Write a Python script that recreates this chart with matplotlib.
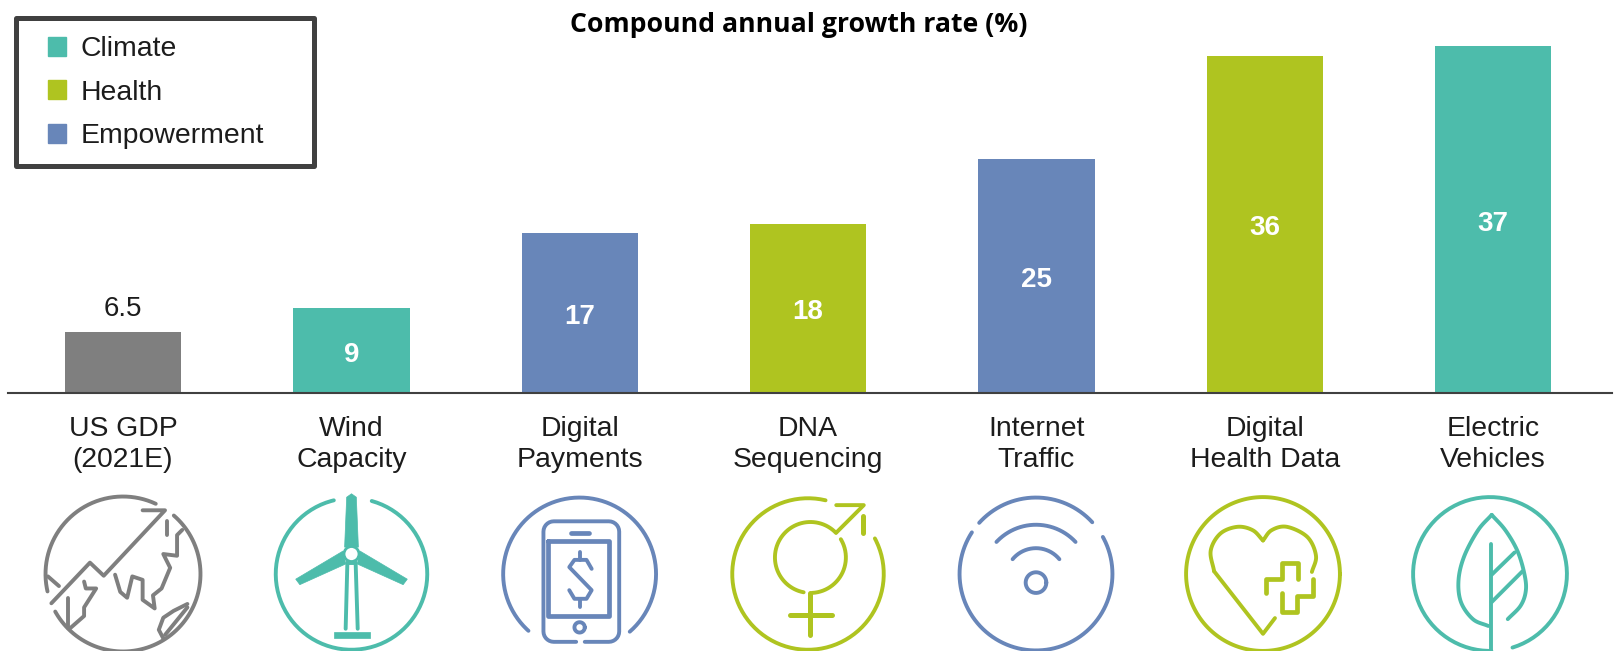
import numpy as np
import matplotlib
matplotlib.use("Agg")
import matplotlib.pyplot as plt
from matplotlib.patches import Patch, Rectangle, Circle

categories = ["US GDP\n(2021E)", "Wind\nCapacity", "Digital\nPayments", "DNA\nSequencing",
              "Internet\nTraffic", "Digital\nHealth Data", "Electric\nVehicles"]
values = [6.5, 9, 17, 18, 25, 36, 37]
value_labels = ["6.5", "9", "17", "18", "25", "36", "37"]
themes = ["GDP", "Climate", "Empowerment", "Health", "Empowerment", "Health", "Climate"]
legend_labels = ["Climate", "Health", "Empowerment"]
title = "Compound annual growth rate (%)"

COL = {"GDP": "#7F7F7F", "Climate": "#4DBCAB", "Health": "#AFC420", "Empowerment": "#6886B9"}
W, H = 1616, 651
SANS = ["Liberation Sans", "DejaVu Sans"]
TXT = "#1c1c1c"

fig = plt.figure(figsize=(W / 100, H / 100), dpi=100, facecolor="white")

# main axes
LEFT, RIGHT, BASE = 8, 1612, 392.5
ax = fig.add_axes([LEFT / W, 1 - BASE / H, (RIGHT - LEFT) / W, BASE / H])
x = np.arange(len(values))
ax.bar(x, values, width=0.51, color=[COL[t] for t in themes], edgecolor="none", zorder=2)
ax.set_xlim(-0.5035, 6.52)
ax.set_ylim(0, BASE / 9.36)
ax.set_yticks([])
ax.set_xticks(x)
ax.set_xticklabels(categories, fontsize=20.4, family=SANS, color=TXT, linespacing=1.25)
ax.tick_params(axis="x", length=0, pad=17)
for s in ("top", "left", "right"):
    ax.spines[s].set_visible(False)
ax.spines["bottom"].set_color("#404040")
ax.spines["bottom"].set_linewidth(1.5)
ax.patch.set_alpha(0)

for xi, v, lab in zip(x, values, value_labels):
    if v < 8:
        ax.annotate(lab, (xi, v), xytext=(0, 7), textcoords="offset points", ha="center", va="bottom",
                    fontsize=20, family=SANS, color=TXT)
    else:
        ax.annotate(lab, (xi, v / 2), xytext=(0, -3), textcoords="offset points", ha="center", va="center",
                    fontsize=20, family=SANS, fontweight="bold", color="white", zorder=3)

fig.text(799 / W, 1 - 25 / H, title, ha="center", va="center", fontsize=19.2,
         fontweight="bold", family=["Open Sans", "DejaVu Sans"], color="black")

# overlay in pixel coordinates for legend frame and icons
ov = fig.add_axes([0, 0, 1, 1])
ov.set_xlim(0, W)
ov.set_ylim(H, 0)
ov.axis("off")
ov.patch.set_alpha(0)

ov.add_patch(Rectangle((16, 17.5), 298, 148, fill=False, ec="#404040", lw=3.6, joinstyle="round"))
handles = [Patch(color=COL[k]) for k in legend_labels]
ov.legend(handles, legend_labels, loc="upper left", bbox_to_anchor=(48 / W, 1 - 36 / H),
          bbox_transform=fig.transFigure, frameon=False, borderpad=0, borderaxespad=0,
          handlelength=0.65, handleheight=0.65, handletextpad=0.5, labelspacing=0.62,
          labelcolor=TXT, prop={"family": SANS, "size": 20.4})


class Icon:
    """Icon drawn from crop coordinates relative to its own centre."""
    def __init__(self, cx, cy, ox, oy, color, scale=2.904, lw=2.8):
        self.cx, self.cy, self.ox, self.oy, self.c, self.s, self.lw = cx, cy, ox, oy, color, scale, lw

    def xy(self, pts):
        p = np.asarray(pts, float)
        return self.cx + (p[:, 0] - self.ox) / self.s, self.cy + (p[:, 1] - self.oy) / self.s

    def line(self, pts, smooth=False, lw=None):
        if smooth:
            pts = catmull(pts)
        px, py = self.xy(pts)
        ov.plot(px, py, color=self.c, lw=lw or self.lw, solid_capstyle="round", solid_joinstyle="round")

    def arc(self, cx, cy, r, a0, a1, lw=None):
        t = np.radians(np.linspace(a0, a1, 160))
        self.line(np.c_[cx + r * np.cos(t), cy - r * np.sin(t)], lw=lw)

    def circle(self, cx, cy, r, lw=None):
        self.arc(cx, cy, r, 0, 360, lw=lw)

    def fill(self, pts):
        px, py = self.xy(pts)
        ov.fill(px, py, color=self.c, lw=0.5)


def catmull(pts, n=12):
    p = np.asarray(pts, float)
    p = np.vstack([2 * p[0] - p[1], p, 2 * p[-1] - p[-2]])
    out = []
    for i in range(1, len(p) - 2):
        for t in np.linspace(0, 1, n, endpoint=False):
            out.append(0.5 * (2 * p[i] + (p[i + 1] - p[i - 1]) * t
                              + (2 * p[i - 1] - 5 * p[i] + 4 * p[i + 1] - p[i + 2]) * t ** 2
                              + (3 * p[i] - p[i - 1] - 3 * p[i + 1] + p[i + 2]) * t ** 3))
    out.append(p[-2])
    return np.array(out)


CY = 574
# Globe
g = Icon(123, CY, 358, 303, COL["GDP"])
g.arc(358, 303, 225, 65, 193)
g.arc(358, 303, 225, 49, -151)
g.line([(150, 388), (262, 270), (302, 308), (480, 118), (415, 118)])
g.line([(485, 150), (485, 190)])
g.line([(140, 310), (172, 338)])
g.line([(245, 325), (250, 345), (280, 345), (245, 400), (245, 425), (205, 460)])
g.line([(198, 372), (198, 460)])
g.line([(335, 305), (350, 355), (370, 372), (385, 310), (415, 320), (415, 378), (450, 403), (445, 365),
        (470, 345), (495, 285), (475, 245), (515, 250), (515, 190), (530, 175)])
g.line([(545, 390), (505, 410), (475, 430), (462, 465), (475, 490)])
g.line([(480, 480), (545, 400)])

# Wind turbine
w = Icon(351.5, CY, 1022, 303, COL["Climate"])
w.arc(1022, 303, 220, 74.5, -256.5)
w.fill([(1008, 80), (1022, 70), (1036, 80), (1042, 225), (1002, 225)])
w.fill([(860, 318), (872, 334), (1005, 274), (998, 236)])
w.fill([(1184, 318), (1172, 334), (1039, 274), (1046, 236)])
w.line([(1010, 270), (1005, 462)])
w.line([(1034, 270), (1040, 462)])
w.line([(1012, 270), (1032, 270)])
w.fill([(970, 470), (1077, 470), (1077, 488), (970, 488)])
hx, hy = w.xy([(1022, 245)])
ov.add_patch(Circle((hx[0], hy[0]), 7.5, fc="white", ec=COL["Climate"], lw=2, zorder=5))

# Phone
p = Icon(579.6, CY, 115, 303, COL["Empowerment"])
p.arc(115, 303, 222, -49, 228)
quarter = np.linspace(0, np.pi / 2, 8)
p.line([(105, 500), (40, 500)]
       + [(40 - 30 * np.sin(a), 470 + 30 * np.cos(a)) for a in quarter]
       + [(40 - 30 * np.cos(a), 180 - 30 * np.sin(a)) for a in quarter]
       + [(200 + 30 * np.sin(a), 180 - 30 * np.cos(a)) for a in quarter]
       + [(200 + 30 * np.cos(a), 470 + 30 * np.sin(a)) for a in quarter]
       + [(130, 500)])
p.line([(22, 207), (200, 207), (200, 425), (22, 425), (22, 207)], lw=3.4)
p.line([(90, 183), (143, 183)], lw=3.4)
p.circle(115, 458, 15)
p.line([(150, 288), (135, 262), (100, 262), (85, 283), (150, 350), (135, 375), (100, 375), (85, 350)])
p.line([(117, 238), (117, 262)])
p.line([(117, 375), (117, 398)])

# Gender symbol
d = Icon(808, CY, 778, 303, COL["Health"])
d.arc(778, 303, 220, 76.6, 388)
d.arc(785, 255, 103, 44, 259)
d.arc(785, 255, 103, 273, 391)
d.line([(860, 183), (940, 103), (860, 103)])
d.line([(938, 135), (938, 185)], lw=3.6)
d.line([(785, 358), (785, 480)], lw=3.6)
d.line([(725, 422), (848, 422)], lw=3.6)

# Wifi
n = Icon(1036, CY, 1440, 303, COL["Empowerment"])
n.arc(1440, 303, 222, 42.6, 138)
n.arc(1440, 303, 222, 147, 389)
n.arc(1440, 317, 157, 43, 137)
n.arc(1440, 316, 88, 39.5, 140.5)
n.circle(1440, 328, 30)

# Heart
h = Icon(1263, CY, 535, 303, COL["Health"], scale=2.925)
h.circle(535, 303, 225)
h.line([(678, 297), (690, 250), (665, 195), (605, 165), (560, 175), (535, 205)], smooth=True)
h.line([(535, 205), (505, 175), (460, 165), (410, 185), (382, 235), (392, 295)], smooth=True)
h.line([(392, 295), (535, 478), (570, 432)])
h.line([(545, 360), (545, 318), (590, 318), (590, 270), (637, 270), (637, 318)], lw=3.4)
h.line([(680, 318), (680, 367), (635, 367), (635, 415), (590, 415), (590, 360)], lw=3.4)

# Leaf
l = Icon(1490, CY, 1200, 303, COL["Climate"], scale=2.925)
l.arc(1200, 303, 225, -73, 271)
l.line([(1203, 215), (1203, 530)])
l.line([(1195, 455), (1150, 435), (1115, 385), (1108, 320), (1125, 250), (1165, 175), (1205, 130)], smooth=True)
l.line([(1205, 130), (1245, 175), (1280, 235), (1300, 300), (1305, 350), (1290, 395), (1252, 435)], smooth=True)
l.line([(1205, 305), (1272, 240)])
l.line([(1205, 385), (1295, 295)])

fig.savefig("out.png", dpi=100)
